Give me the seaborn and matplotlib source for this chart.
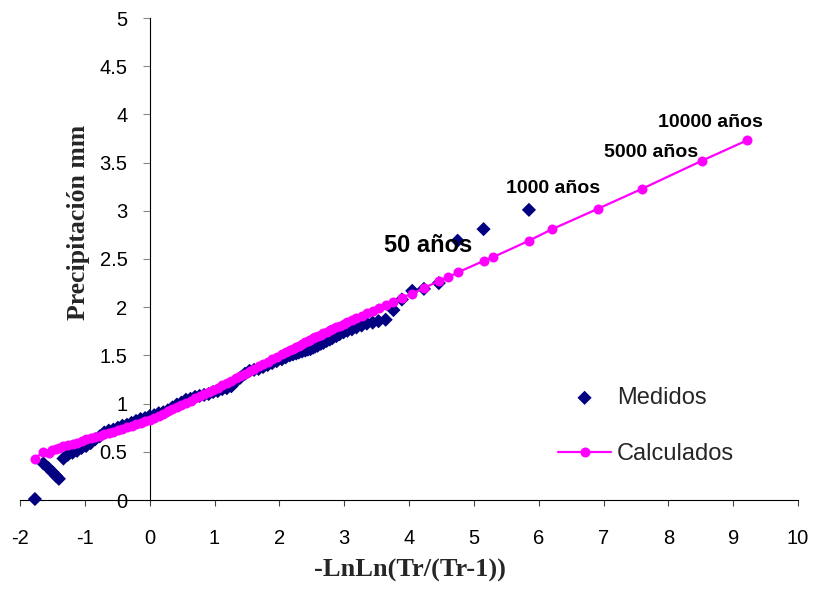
import matplotlib
matplotlib.use("Agg")
import matplotlib.pyplot as plt
import seaborn as sns
import pandas as pd

# ---------------- data ----------------
x_medidos = [-1.77, -1.64, -1.56, -1.50, -1.445, -1.40,
             -1.33, -1.26, -1.19, -1.12, -1.05, -0.98, -0.91, -0.84, -0.77, -0.70,
             -0.63, -0.56, -0.49, -0.42, -0.35, -0.28, -0.21, -0.14, -0.07, 0.00,
             0.07, 0.14, 0.21, 0.28, 0.35, 0.42, 0.49, 0.56, 0.63, 0.70,
             0.77, 0.84, 0.91, 0.98, 1.05, 1.12, 1.19, 1.26, 1.33, 1.40,
             1.47, 1.54, 1.61, 1.68, 1.75, 1.82, 1.89, 1.96, 2.04, 2.10,
             2.16, 2.21, 2.26, 2.30, 2.35, 2.40, 2.44, 2.48, 2.52, 2.55,
             2.59, 2.64, 2.68, 2.73, 2.78, 2.82, 2.88, 2.93, 2.99, 3.05,
             3.12, 3.19, 3.27, 3.35, 3.44, 3.53, 3.64, 3.76, 3.89, 4.05,
             4.23, 4.46, 4.75, 5.15, 5.85]
y_medidos = [0.01, 0.38, 0.33, 0.29, 0.25, 0.22,
             0.43, 0.47, 0.49, 0.51, 0.54, 0.56, 0.59, 0.63, 0.66, 0.70,
             0.72, 0.73, 0.75, 0.77, 0.78, 0.80, 0.82, 0.84, 0.85, 0.87,
             0.88, 0.90, 0.91, 0.93, 0.96, 0.99, 1.01, 1.04, 1.05, 1.07,
             1.08, 1.09, 1.10, 1.12, 1.13, 1.15, 1.16, 1.18, 1.23, 1.27,
             1.31, 1.34, 1.35, 1.36, 1.38, 1.40, 1.42, 1.44, 1.46, 1.48,
             1.50, 1.51, 1.52, 1.53, 1.54, 1.55, 1.56, 1.565, 1.58, 1.59,
             1.60, 1.62, 1.63, 1.65, 1.665, 1.68, 1.70, 1.72, 1.74, 1.755,
             1.77, 1.79, 1.81, 1.83, 1.84, 1.855, 1.87, 1.97, 2.08, 2.17,
             2.19, 2.25, 2.69, 2.81, 3.01]

x_calculados = [-1.77, -1.64, -1.56, -1.50, -1.445, -1.40,
                -1.33, -1.26, -1.19, -1.12, -1.05, -0.98, -0.91, -0.84, -0.77, -0.70,
                -0.63, -0.56, -0.49, -0.42, -0.35, -0.28, -0.21, -0.14, -0.07, 0.00,
                0.07, 0.14, 0.21, 0.28, 0.35, 0.42, 0.49, 0.56, 0.63, 0.70,
                0.77, 0.84, 0.91, 0.98, 1.05, 1.12, 1.19, 1.26, 1.33, 1.40,
                1.47, 1.54, 1.61, 1.68, 1.75, 1.82, 1.89, 1.96, 2.04, 2.10,
                2.16, 2.21, 2.26, 2.30, 2.35, 2.40, 2.44, 2.48, 2.52, 2.55,
                2.59, 2.64, 2.68, 2.73, 2.78, 2.82, 2.88, 2.93, 2.99, 3.05,
                3.12, 3.19, 3.27, 3.35, 3.44, 3.53, 3.64, 3.76, 3.89, 4.05,
                4.23, 4.46, 4.60, 4.75, 5.15, 5.30, 5.85, 6.21, 6.91, 7.60,
                8.52, 9.21]
y_calculados = [0.43, 0.50, 0.49, 0.52, 0.53, 0.54,
                0.555, 0.566, 0.578, 0.595, 0.612, 0.629, 0.642, 0.655, 0.669, 0.682,
                0.695, 0.709, 0.722, 0.738, 0.753, 0.768, 0.784, 0.799, 0.815, 0.830,
                0.852, 0.875, 0.897, 0.920, 0.942, 0.964, 0.987, 1.009, 1.032, 1.054,
                1.076, 1.099, 1.121, 1.144, 1.167, 1.191, 1.215, 1.238, 1.262, 1.286,
                1.310, 1.334, 1.360, 1.385, 1.410, 1.435, 1.460, 1.486, 1.514, 1.534,
                1.554, 1.571, 1.588, 1.602, 1.619, 1.636, 1.650, 1.663, 1.676, 1.686,
                1.699, 1.715, 1.728, 1.744, 1.760, 1.772, 1.792, 1.808, 1.827, 1.845,
                1.866, 1.887, 1.911, 1.935, 1.962, 1.990, 2.020, 2.050, 2.100, 2.140,
                2.200, 2.270, 2.310, 2.360, 2.480, 2.520, 2.690, 2.810, 3.020, 3.230,
                3.520, 3.730]

annot_text = ["50 años", "1000 años", "5000 años", "10000 años"]
annot_x = [4.30, 6.22, 7.74, 8.65]
annot_y = [2.64, 3.23, 3.60, 3.92]

x_ticks = list(range(-2, 11))
y_ticks = [0, 0.5, 1, 1.5, 2, 2.5, 3, 3.5, 4, 4.5, 5]
y_tick_labels = ["0", "0.5", "1", "1.5", "2", "2.5", "3", "3.5", "4", "4.5", "5"]

# ---------------- style ----------------
sns.set_style("white")
plt.rcParams["font.family"] = ["Liberation Sans", "DejaVu Sans"]
plt.rcParams["axes.unicode_minus"] = False

NAVY = "#000080"
PINK = "#FF00FF"
SANS = ["Liberation Sans", "DejaVu Sans"]
SERIF = ["Liberation Serif", "DejaVu Serif"]

df_m = pd.DataFrame({"x": x_medidos, "y": y_medidos})
df_c = pd.DataFrame({"x": x_calculados, "y": y_calculados})

fig = plt.figure(figsize=(8.19, 5.90), dpi=100)
ax = fig.add_axes([20 / 819, 1 - 500 / 590, 778 / 819, 482 / 590])

sns.scatterplot(data=df_m, x="x", y="y", ax=ax, marker="D", s=52,
                color=NAVY, edgecolor="none", linewidth=0, label="Medidos",
                clip_on=False, zorder=3)
sns.lineplot(data=df_c, x="x", y="y", ax=ax, sort=False, color=PINK,
             linewidth=1.6, marker="o", markersize=7.2, markeredgewidth=0,
             label="Calculados", zorder=4)

ax.set_xlim(-2, 10)
ax.set_ylim(0, 5)
ax.set_xticks(x_ticks)
ax.set_xticklabels([str(v) for v in x_ticks])
ax.set_yticks(y_ticks)
ax.set_yticklabels(y_tick_labels)

for s in ["top", "right"]:
    ax.spines[s].set_visible(False)
ax.spines["left"].set_position(("data", 0))
for s in ["left", "bottom"]:
    ax.spines[s].set_color("black")
    ax.spines[s].set_linewidth(0.8)

ax.tick_params(axis="x", direction="out", length=4, width=0.8, color="#444444",
               pad=17, labelsize=14.5, labelcolor="black", bottom=True)
ax.tick_params(axis="y", direction="out", length=5, width=0.8, color="#888888",
               pad=11, labelsize=14.5, labelcolor="black", left=True)

ax.set_xlabel("")
ax.set_ylabel("")
fig.text(410 / 819, 1 - 570 / 590, "-LnLn(Tr/(Tr-1))", ha="center", va="center",
         fontsize=19, fontweight="bold", family=SERIF)
fig.text(78 / 819, 1 - 222 / 590, "Precipitación mm", ha="center", va="center",
         rotation=90, fontsize=18.5, fontweight="bold", family=SERIF)

annot_sizes = [17, 14, 14, 14]
for t, xx, yy, fs in zip(annot_text, annot_x, annot_y, annot_sizes):
    ax.text(xx, yy, t, ha="center", va="center", fontsize=fs,
            fontweight="bold", color="black", family=SANS)

leg = ax.legend(loc="upper left", bbox_to_anchor=((558 - 20) / 778, (500 - 387) / 482),
                bbox_transform=ax.transAxes, frameon=False,
                prop={"family": SANS, "size": 17},
                handlelength=2.25, handletextpad=0.25, labelspacing=1.44,
                borderpad=0, borderaxespad=0, scatterpoints=1)

fig.savefig("out.png", dpi=100)
